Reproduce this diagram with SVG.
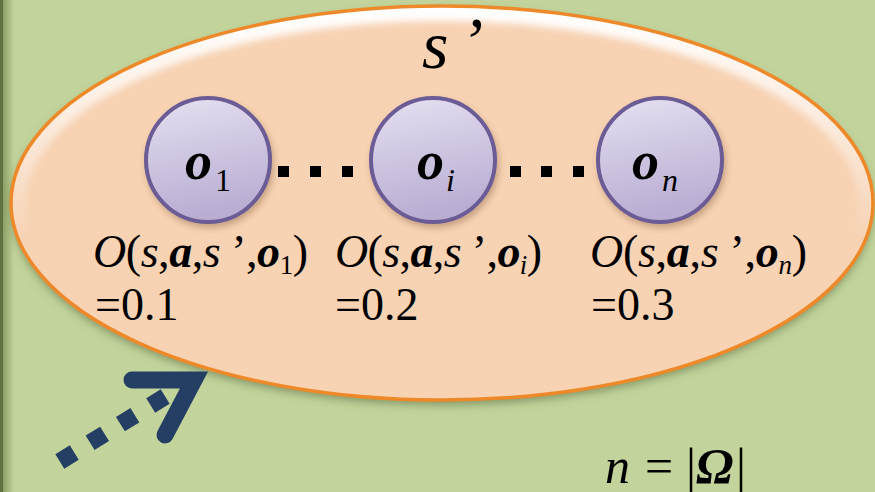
<svg xmlns="http://www.w3.org/2000/svg" width="875" height="492" viewBox="0 0 875 492" font-family="'Liberation Serif', serif">
<defs>
<style>
.i{font-style:italic}
.bi{font-style:italic;font-weight:bold}
.lbl{font-size:46px}
.nodeT{font-size:54px}
.dot{fill:#000}
.circ{fill:url(#cg);stroke:#6c5b95;stroke-width:4;filter:url(#sh)}
.arrow{fill:none;stroke:#243f63;stroke-width:17}
</style>
<linearGradient id="bgL" x1="0" y1="0" x2="1" y2="0">
<stop offset="0" stop-color="#7d9157"/>
<stop offset="1" stop-color="#c2d49c"/>
</linearGradient>
<linearGradient id="cg" x1="0" y1="0" x2="0.2" y2="1">
<stop offset="0" stop-color="#e6e1f1"/>
<stop offset="0.5" stop-color="#cfc6e2"/>
<stop offset="1" stop-color="#b9add2"/>
</linearGradient>
<linearGradient id="glow" x1="0" y1="0" x2="0" y2="1">
<stop offset="0" stop-color="#ffffff" stop-opacity="1"/>
<stop offset="0.3" stop-color="#ffffff" stop-opacity="0.55"/>
<stop offset="0.6" stop-color="#ffffff" stop-opacity="0"/>
</linearGradient>
<filter id="sh" x="-20%" y="-20%" width="140%" height="140%">
<feDropShadow dx="2" dy="4" stdDeviation="3" flood-color="#6b4a2a" flood-opacity="0.35"/>
</filter>
<filter id="esh" x="-10%" y="-10%" width="120%" height="125%">
<feDropShadow dx="0" dy="5" stdDeviation="4" flood-color="#4a5a30" flood-opacity="0.5"/>
</filter>
<filter id="bl"><feGaussianBlur stdDeviation="3.5"/></filter>
<clipPath id="ec"><ellipse cx="442" cy="203" rx="431" ry="197"/></clipPath>
</defs>
<rect x="0" y="0" width="875" height="492" fill="#c2d49c"/>
<rect x="0" y="0" width="14" height="492" fill="url(#bgL)"/>
<rect x="0" y="0" width="3" height="492" fill="#5f7340"/>

<g id="state">
<ellipse cx="442" cy="203" rx="431" ry="197" fill="#f7d2b3" filter="url(#esh)"/>
<g clip-path="url(#ec)">
<ellipse cx="442" cy="203" rx="426" ry="192" fill="none" stroke="url(#glow)" stroke-width="20" filter="url(#bl)"/>
</g>
<ellipse cx="442" cy="203" rx="431" ry="197" fill="none" stroke="#ee892a" stroke-width="3.5"/>
<text font-family="'Liberation Serif', serif" class="i" x="422" y="68" font-size="68">s<tspan dx="12" dy="-4">’</tspan></text>
</g>

<g id="node-o1">
<circle class="circ" cx="208" cy="160" r="62"/>
<text font-family="'Liberation Serif', serif" class="nodeT" x="185" y="179"><tspan class="bi">o</tspan><tspan font-size="32" dx="3" dy="12">1</tspan></text>
</g>
<g id="node-oi">
<circle class="circ" cx="433" cy="160" r="62"/>
<text font-family="'Liberation Serif', serif" class="nodeT" x="417" y="179"><tspan class="bi">o</tspan><tspan class="i" font-size="32" dx="2" dy="12">i</tspan></text>
</g>
<g id="node-on">
<circle class="circ" cx="660" cy="160" r="62"/>
<text font-family="'Liberation Serif', serif" class="nodeT" x="632" y="179"><tspan class="bi">o</tspan><tspan class="i" font-size="32" dx="3" dy="12">n</tspan></text>
</g>

<g id="connectors">
<rect class="dot" x="278" y="166" width="11" height="11"/>
<rect class="dot" x="310" y="166" width="11" height="11"/>
<rect class="dot" x="342" y="166" width="11" height="11"/>
<rect class="dot" x="510" y="166" width="11" height="11"/>
<rect class="dot" x="541" y="166" width="11" height="11"/>
<rect class="dot" x="573" y="166" width="11" height="11"/>
<line class="arrow" x1="59.8" y1="461.5" x2="165.2" y2="396.5" stroke-dasharray="17 18.6"/>
<path class="arrow" d="M132,380 L194,380 L165,435" stroke-linecap="round" stroke-linejoin="miter"/>
</g>

<g id="labels" font-family="'Liberation Serif', serif">
<text class="lbl" x="93" y="267" textLength="215"><tspan class="i">O</tspan>(<tspan class="i">s</tspan>,<tspan class="bi">a</tspan>,<tspan class="i">s</tspan> ’,<tspan class="bi">o</tspan><tspan font-size="27" dy="7">1</tspan><tspan dy="-7">)</tspan></text>
<text class="lbl" x="95" y="320">=0.1</text>
<text class="lbl" x="335" y="267" textLength="207"><tspan class="i">O</tspan>(<tspan class="i">s</tspan>,<tspan class="bi">a</tspan>,<tspan class="i">s</tspan> ’,<tspan class="bi">o</tspan><tspan class="i" font-size="27" dy="7">i</tspan><tspan dy="-7">)</tspan></text>
<text class="lbl" x="335" y="320">=0.2</text>
<text class="lbl" x="590" y="267" textLength="217"><tspan class="i">O</tspan>(<tspan class="i">s</tspan>,<tspan class="bi">a</tspan>,<tspan class="i">s</tspan> ’,<tspan class="bi">o</tspan><tspan class="i" font-size="27" dy="7">n</tspan><tspan dy="-7">)</tspan></text>
<text class="lbl" x="591" y="320">=0.3</text>
<text font-size="50" y="483"><tspan class="i" x="605">n</tspan><tspan x="645">=</tspan><tspan x="686">|</tspan><tspan class="bi" x="696">Ω</tspan><tspan x="736">|</tspan></text>
</g>
</svg>
